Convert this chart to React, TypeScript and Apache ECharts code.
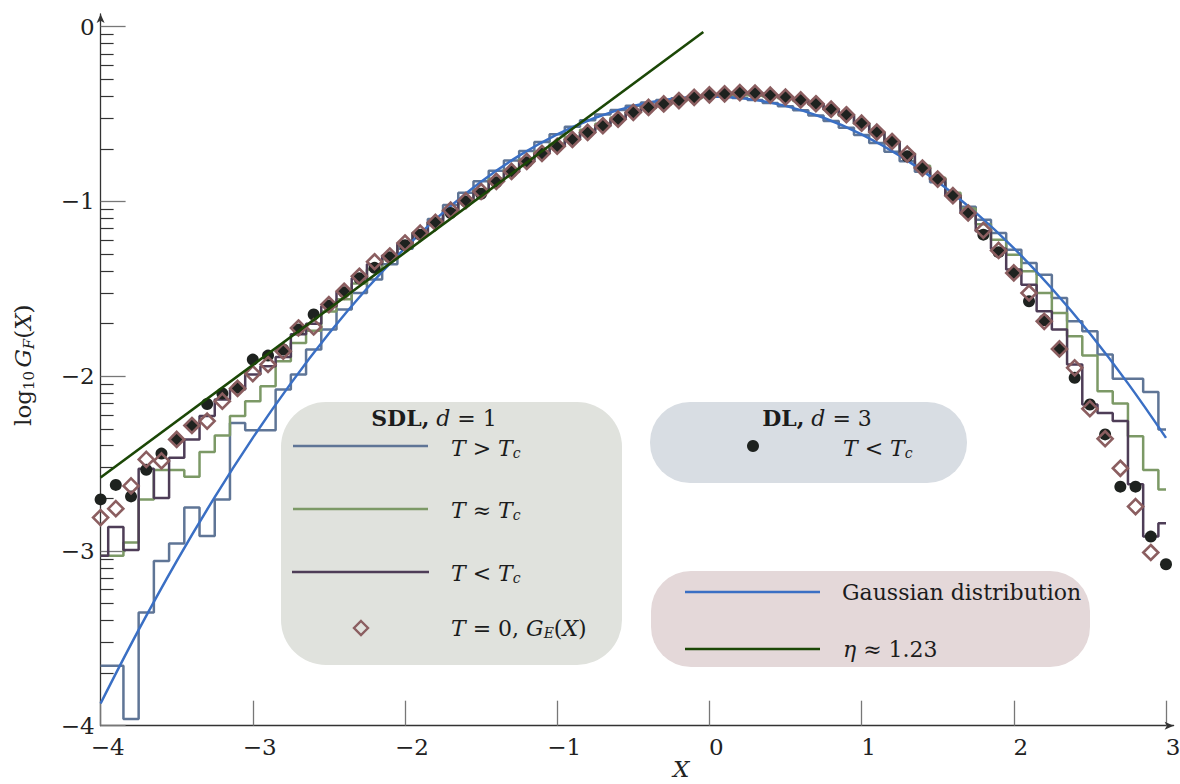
import React, { useEffect, useRef } from "react";
import * as echarts from "echarts";

// Sample positions X (step 0.1) shared by the histograms and the point sets
const XS = [
  -4.0, -3.9, -3.8, -3.7, -3.6, -3.5, -3.4, -3.3, -3.2, -3.1,
  -3.0, -2.9, -2.8, -2.7, -2.6, -2.5, -2.4, -2.3, -2.2, -2.1,
  -2.0, -1.9, -1.8, -1.7, -1.6, -1.5, -1.4, -1.3, -1.2, -1.1,
  -1.0, -0.9, -0.8, -0.7, -0.6, -0.5, -0.4, -0.3, -0.2, -0.1,
  0.0, 0.1, 0.2, 0.3, 0.4, 0.5, 0.6, 0.7, 0.8, 0.9,
  1.0, 1.1, 1.2, 1.3, 1.4, 1.5, 1.6, 1.7, 1.8, 1.9,
  2.0, 2.1, 2.2, 2.3, 2.4, 2.5, 2.6, 2.7, 2.8, 2.9, 3.0,
];

// SDL, d = 1 : T > Tc
const SDL_ABOVE = [
  -3.657, -3.657, -3.962, -3.352, -3.057, -2.958, -2.752, -2.914, -2.705, -2.268,
  -2.31, -2.31, -2.076, -1.99, -1.847, -1.733, -1.619, -1.524, -1.447, -1.36,
  -1.27, -1.18, -1.1, -1.02, -0.95, -0.885, -0.825, -0.765, -0.712, -0.66,
  -0.615, -0.572, -0.535, -0.503, -0.476, -0.452, -0.434, -0.42, -0.41, -0.402,
  -0.4, -0.402, -0.408, -0.42, -0.436, -0.455, -0.478, -0.508, -0.54, -0.578,
  -0.62, -0.665, -0.716, -0.77, -0.83, -0.89, -0.96, -1.03, -1.105, -1.18,
  -1.276, -1.352, -1.419, -1.552, -1.686, -1.743, -1.876, -2.015, -2.015, -2.091, -2.305,
];

// SDL, d = 1 : T ≈ Tc
const SDL_CRIT = [
  -3.028, -3.028, -2.952, -2.705, -2.537, -2.537, -2.575, -2.434, -2.339, -2.228,
  -2.143, -2.057, -1.914, -1.81, -1.74, -1.63, -1.56, -1.47, -1.39, -1.33,
  -1.25, -1.18, -1.12, -1.05, -0.99, -0.93, -0.87, -0.82, -0.76, -0.715,
  -0.67, -0.63, -0.59, -0.555, -0.52, -0.49, -0.465, -0.445, -0.425, -0.41,
  -0.4, -0.395, -0.392, -0.395, -0.4, -0.41, -0.425, -0.445, -0.475, -0.51,
  -0.555, -0.605, -0.66, -0.725, -0.795, -0.865, -0.95, -1.04, -1.13, -1.219,
  -1.305, -1.4, -1.524, -1.638, -1.771, -1.882, -2.086, -2.156, -2.343, -2.537, -2.648,
];

// SDL, d = 1 : T < Tc
const SDL_BELOW = [
  -3.028, -2.863, -2.995, -2.529, -2.697, -2.466, -2.362, -2.228, -2.133, -2.076,
  -1.99, -1.943, -1.89, -1.76, -1.7, -1.6, -1.52, -1.44, -1.36, -1.31,
  -1.24, -1.18, -1.12, -1.05, -0.995, -0.94, -0.885, -0.83, -0.77, -0.725,
  -0.684, -0.645, -0.605, -0.567, -0.53, -0.49, -0.463, -0.442, -0.423, -0.405,
  -0.39, -0.384, -0.378, -0.38, -0.392, -0.403, -0.42, -0.442, -0.473, -0.505,
  -0.553, -0.604, -0.658, -0.73, -0.81, -0.873, -0.968, -1.067, -1.17, -1.27,
  -1.39, -1.476, -1.628, -1.733, -1.933, -2.162, -2.21, -2.257, -2.619, -2.918, -2.842,
];

// T = 0, G_E(X)
const ZERO_T = [
  -2.809, -2.758, -2.628, -2.476, -2.485, -2.362, -2.282, -2.257, -2.143, -2.07,
  -1.985, -1.933, -1.857, -1.724, -1.718, -1.59, -1.514, -1.428, -1.345, -1.312,
  -1.238, -1.181, -1.12, -1.05, -0.995, -0.943, -0.885, -0.828, -0.771, -0.725,
  -0.684, -0.645, -0.605, -0.567, -0.529, -0.49, -0.462, -0.442, -0.423, -0.404,
  -0.39, -0.384, -0.377, -0.38, -0.392, -0.403, -0.419, -0.441, -0.472, -0.504,
  -0.552, -0.603, -0.657, -0.729, -0.809, -0.872, -0.967, -1.066, -1.165, -1.28,
  -1.409, -1.524, -1.686, -1.844, -1.952, -2.186, -2.358, -2.527, -2.746, -3.009, null,
];

// DL, d = 3 : T < Tc
const DL_BELOW = [
  -2.705, -2.622, -2.688, -2.535, -2.443, -2.36, -2.281, -2.159, -2.099, -2.066,
  -1.905, -1.882, -1.847, -1.733, -1.647, -1.595, -1.52, -1.44, -1.38, -1.32,
  -1.25, -1.19, -1.12, -1.066, -1.0, -0.956, -0.89, -0.83, -0.775, -0.727,
  -0.685, -0.643, -0.605, -0.567, -0.53, -0.49, -0.462, -0.442, -0.42, -0.404,
  -0.39, -0.384, -0.377, -0.38, -0.392, -0.403, -0.419, -0.441, -0.472, -0.504,
  -0.552, -0.603, -0.657, -0.742, -0.809, -0.875, -0.967, -1.066, -1.19, -1.29,
  -1.409, -1.571, -1.68, -1.844, -2.009, -2.162, -2.333, -2.632, -2.632, -2.918, -3.076,
];

// Gaussian distribution curve
const GAUSS_X = [
  -4, -3.75, -3.5, -3.25, -3, -2.75, -2.5, -2.25, -2, -1.75, -1.5, -1.25, -1, -0.75, -0.5,
  -0.25, 0, 0.25, 0.5, 0.75, 1, 1.25, 1.5, 1.75, 2, 2.25, 2.5, 2.75, 3,
];
const GAUSS_Y = [
  -3.873, -3.452, -3.058, -2.692, -2.353, -2.041, -1.756, -1.498, -1.267, -1.064, -0.887,
  -0.738, -0.616, -0.521, -0.453, -0.413, -0.399, -0.413, -0.453, -0.521, -0.616, -0.738,
  -0.887, -1.064, -1.267, -1.498, -1.756, -2.041, -2.353,
];

// Power-law tail, eta ≈ 1.23
const ETA_X = [-4, -0.04];
const ETA_Y = [-2.58, -0.03];

// Axis ticks
const X_TICKS = [-4, -3, -2, -1, 0, 1, 2, 3];
const Y_DECADES = [0, -1, -2, -3];
const LOG_STEPS = [0.30103, 0.47712, 0.60206, 0.69897, 0.77815, 0.8451, 0.90309, 0.95424];

const C_ABOVE = "#5f7596";
const C_CRIT = "#7c9966";
const C_BELOW = "#4e3d57";
const C_GAUSS = "#3a6fc4";
const C_ETA = "#1b4706";
const C_DOT = "#1e221f";
const C_DIAMOND = "#8b5e60";

const FONT = "'DejaVu Serif', 'Liberation Serif', serif";
const INK = "#1c1c1c";

const pairs = (xs: number[], ys: (number | null)[]) =>
  xs.map((x, i) => [x, ys[i]]).filter((p) => p[1] !== null);

const minus = (v: number) => String(v).replace("-", "\u2212");

const RICH = {
  i: { fontFamily: FONT, fontSize: 22, fontStyle: "italic", fill: INK },
  b: { fontFamily: FONT, fontSize: 22, fontWeight: "bold", fill: INK },
  sub: { fontFamily: FONT, fontSize: 14, fontStyle: "italic", fill: INK, padding: [10, 0, 0, 0] },
};

const label = (x: number, y: number, text: string, align = "left") => ({
  type: "text",
  x,
  y,
  z: 100,
  style: {
    text,
    fontFamily: FONT,
    fontSize: 22,
    fill: INK,
    textAlign: align,
    textVerticalAlign: "middle",
    rich: RICH,
  },
});

const hline = (x1: number, x2: number, y: number, color: string) => ({
  type: "line",
  z: 100,
  shape: { x1, y1: y, x2, y2: y },
  style: { stroke: color, lineWidth: 2.5 },
});

const box = (x: number, y: number, w: number, h: number, r: number, fill: string) => ({
  type: "rect",
  z: 90,
  shape: { x, y, width: w, height: h, r },
  style: { fill },
});

export default function App() {
  const ref = useRef<HTMLDivElement>(null);

  useEffect(() => {
    if (!ref.current) return;
    const chart = echarts.init(ref.current, null, { renderer: "svg" });

    const minorTicks: number[] = [];
    Y_DECADES.forEach((d) => LOG_STEPS.forEach((s) => minorTicks.push(d - 1 + s)));

    const stepSeries = (name: string, ys: number[], color: string) => ({
      name,
      type: "line",
      step: "middle",
      xAxisIndex: 0,
      yAxisIndex: 0,
      data: pairs(XS, ys),
      symbol: "none",
      lineStyle: { color, width: 2.5 },
      z: 2,
    });

    const tickFont = { fontSize: 23, fontFamily: FONT, color: "#222" };

    chart.setOption({
      animation: false,
      grid: [
        { left: 100.6, top: 26.7, width: 1065.4, height: 699, outerBoundsMode: "none" },
        { left: 100.6, top: 14, width: 1073, height: 711.7, outerBoundsMode: "none" },
      ],
      xAxis: [
        {
          gridIndex: 0,
          type: "value",
          min: -4,
          max: 3,
          interval: 1,
          axisLine: { show: false, onZero: false },
          axisTick: {
            inside: true,
            length: 25,
            customValues: X_TICKS,
            lineStyle: { color: "#777", width: 1.3 },
          },
          axisLabel: { ...tickFont, margin: 10, formatter: minus, padding: [0, 0, 0, 14] },
          splitLine: { show: false },
          name: "X",
          nameLocation: "middle",
          nameGap: 32,
          nameMoveOverlap: false,
          nameTextStyle: {
            fontFamily: FONT,
            fontSize: 23,
            fontStyle: "italic",
            color: "#222",
            padding: [0, 0, 0, 96],
          },
        },
        {
          gridIndex: 1,
          type: "value",
          min: 0,
          max: 1,
          axisLine: {
            show: true,
            onZero: false,
            symbol: ["none", "arrow"],
            symbolSize: [6, 9],
            lineStyle: { color: "#333", width: 1.3 },
          },
          axisTick: { show: false },
          axisLabel: { show: false },
          splitLine: { show: false },
        },
      ],
      yAxis: [
        {
          gridIndex: 0,
          type: "value",
          position: "left",
          min: -4,
          max: 0,
          interval: 1,
          axisLine: { show: false, onZero: false },
          axisTick: { inside: true, length: 25, lineStyle: { color: "#777", width: 1.3 } },
          axisLabel: { ...tickFont, margin: 6, formatter: minus },
          splitLine: { show: false },
          name: "{t|log}{s|10} {g|G}{f|F}{t|(}{g|X}{t|)}",
          nameLocation: "middle",
          nameRotate: 90,
          nameGap: 64,
          nameMoveOverlap: false,
          nameTextStyle: {
            color: "#222",
            padding: [0, 0, 0, 22],
            rich: {
              t: { fontFamily: FONT, fontSize: 23, color: "#222" },
              s: { fontFamily: FONT, fontSize: 15, color: "#222", padding: [12, 0, 0, 0] },
              g: { fontFamily: FONT, fontSize: 23, fontStyle: "italic", color: "#222" },
              f: { fontFamily: FONT, fontSize: 15, fontStyle: "italic", color: "#222", padding: [12, 0, 0, 0] },
            },
          },
        },
        {
          gridIndex: 0,
          type: "value",
          position: "left",
          min: -4,
          max: 0,
          axisLine: { show: false, onZero: false },
          axisTick: {
            inside: true,
            length: 13,
            customValues: minorTicks,
            lineStyle: { color: "#333", width: 1.2 },
          },
          axisLabel: { show: false },
          splitLine: { show: false },
        },
        {
          gridIndex: 1,
          type: "value",
          position: "left",
          min: 0,
          max: 1,
          axisLine: {
            show: true,
            onZero: false,
            symbol: ["none", "arrow"],
            symbolSize: [6, 9],
            lineStyle: { color: "#333", width: 1.3 },
          },
          axisTick: { show: false },
          axisLabel: { show: false },
          splitLine: { show: false },
        },
      ],
      series: [
        stepSeries("T > Tc", SDL_ABOVE, C_ABOVE),
        stepSeries("T ≈ Tc", SDL_CRIT, C_CRIT),
        stepSeries("T < Tc", SDL_BELOW, C_BELOW),
        {
          name: "Gaussian distribution",
          type: "line",
          smooth: 0.4,
          data: pairs(GAUSS_X, GAUSS_Y),
          symbol: "none",
          lineStyle: { color: C_GAUSS, width: 2.5 },
          z: 3,
        },
        {
          name: "DL, d = 3",
          type: "scatter",
          data: pairs(XS, DL_BELOW),
          symbol: "circle",
          symbolSize: 12,
          itemStyle: { color: C_DOT, opacity: 1 },
          z: 4,
        },
        {
          name: "T = 0",
          type: "scatter",
          data: pairs(XS, ZERO_T),
          symbol: "diamond",
          symbolSize: 15,
          itemStyle: { color: "rgba(0,0,0,0)", borderColor: C_DIAMOND, borderWidth: 2.6, opacity: 1 },
          z: 5,
        },
        {
          name: "eta",
          type: "line",
          data: pairs(ETA_X, ETA_Y),
          symbol: "none",
          lineStyle: { color: C_ETA, width: 2.6 },
          z: 6,
        },
      ],
      graphic: [
        // SDL, d = 1
        box(281, 402, 341, 263, 45, "#e0e2dd"),
        label(434, 418, "{b|SDL,} {i|d} = 1", "center"),
        hline(293, 428, 446, C_ABOVE),
        label(451, 448, "{i|T} > {i|T}{sub|c}"),
        hline(293, 428, 509, C_CRIT),
        label(451, 510, "{i|T} ≈ {i|T}{sub|c}"),
        hline(292, 429, 572, C_BELOW),
        label(451, 573, "{i|T} < {i|T}{sub|c}"),
        {
          type: "polygon",
          z: 100,
          shape: { points: [[361, 621], [368, 628], [361, 635], [354, 628]] },
          style: { fill: "none", stroke: C_DIAMOND, lineWidth: 2.4 },
        },
        label(451, 628, "{i|T} = 0, {i|G}{sub|E}({i|X})"),
        // DL, d = 3
        box(650, 402, 317, 81, 40, "#d8dde3"),
        label(817, 418, "{b|DL,} {i|d} = 3", "center"),
        { type: "circle", z: 100, shape: { cx: 753, cy: 446, r: 6 }, style: { fill: C_DOT } },
        label(843, 448, "{i|T} < {i|T}{sub|c}"),
        // Reference curves
        box(651, 571, 439, 96, 40, "#e4d8d9"),
        hline(685, 820, 592, C_GAUSS),
        label(842, 592, "Gaussian distribution"),
        hline(685, 820, 649, C_ETA),
        label(843, 649, "{i|η} ≈ 1.23"),
      ],
    });

    return () => chart.dispose();
  }, []);

  return (
    <div
      ref={ref}
      style={{ position: "fixed", left: 0, top: 0, width: 1180, height: 784, background: "#fff" }}
    />
  );
}
